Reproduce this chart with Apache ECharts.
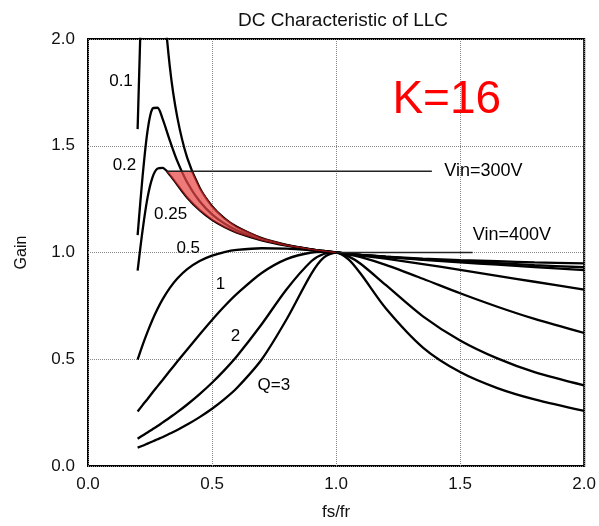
<!DOCTYPE html>
<html>
<head>
<meta charset="utf-8">
<script src="https://cdn.jsdelivr.net/npm/echarts@6/dist/echarts.min.js"></script>
<style>
  html, body { margin: 0; padding: 0; background: #fff; }
  #main { width: 599px; height: 526px; }
</style>
</head>
<body>
<div id="main"></div>
<script>
var chart = echarts.init(document.getElementById("main"));

// fs/fr sample points shared by all gain curves
var fsfr = [0.2, 0.22, 0.24, 0.26, 0.28, 0.3, 0.33, 0.36, 0.4, 0.45, 0.5, 0.55, 0.6,
            0.7, 0.8, 0.9, 0.95, 1.0, 1.05, 1.1, 1.2, 1.35, 1.5, 1.65, 1.8, 2.0];

// gain (values above 2.0 are clipped by the plot)
var gainQ01  = [1.578, 2.388, 3.13, 3.106, 2.657, 2.259, 1.868, 1.633, 1.443, 1.303, 1.217, 1.160, 1.120,
                1.067, 1.036, 1.015, 1.007, 1.0, 0.994, 0.989, 0.981, 0.971, 0.964, 0.959, 0.954, 0.949];
var gainQ02  = [1.081, 1.356, 1.570, 1.674, 1.678, 1.628, 1.524, 1.428, 1.328, 1.240, 1.179, 1.136, 1.104,
                1.061, 1.034, 1.014, 1.007, 1.0, 0.994, 0.989, 0.980, 0.968, 0.958, 0.950, 0.941, 0.931];
var gainQ025 = [0.915, 1.104, 1.257, 1.352, 1.393, 1.396, 1.363, 1.317, 1.257, 1.198, 1.153, 1.119, 1.093,
                1.057, 1.032, 1.014, 1.007, 1.0, 0.994, 0.989, 0.979, 0.966, 0.954, 0.943, 0.932, 0.917];
var gainQ05  = [0.498, 0.566, 0.628, 0.685, 0.735, 0.779, 0.834, 0.878, 0.922, 0.960, 0.985, 1.002, 1.012,
                1.020, 1.018, 1.011, 1.006, 1.0, 0.993, 0.986, 0.971, 0.946, 0.919, 0.891, 0.863, 0.826];
var gainQ1   = [0.255, 0.285, 0.314, 0.344, 0.373, 0.402, 0.446, 0.489, 0.546, 0.616, 0.684, 0.748, 0.806,
                0.904, 0.969, 1.000, 1.003, 1.0, 0.991, 0.978, 0.942, 0.877, 0.809, 0.746, 0.689, 0.623];
var gainQ2   = [0.128, 0.143, 0.157, 0.172, 0.187, 0.203, 0.227, 0.252, 0.288, 0.337, 0.390, 0.449, 0.514,
                0.664, 0.827, 0.959, 0.993, 1.0, 0.982, 0.946, 0.848, 0.701, 0.588, 0.504, 0.440, 0.378];
var gainQ3   = [0.086, 0.095, 0.105, 0.115, 0.125, 0.135, 0.152, 0.169, 0.194, 0.229, 0.268, 0.313, 0.365,
                0.499, 0.686, 0.900, 0.976, 1.0, 0.968, 0.899, 0.739, 0.555, 0.440, 0.365, 0.312, 0.258];

var curves = [gainQ01, gainQ02, gainQ025, gainQ05, gainQ1, gainQ2, gainQ3];

// red operating band (between Q=0.25 and Q=0.1, below the Vin=300V level)
var bandX    = [0.318, 0.33, 0.36, 0.4, 0.42, 0.45, 0.5, 0.55, 0.6, 0.7, 0.8, 0.9, 1.0];
var bandLow  = [1.38, 1.363, 1.317, 1.257, 1.232, 1.198, 1.153, 1.119, 1.093, 1.057, 1.032, 1.014, 1.0];
var bandHigh = [1.38, 1.38, 1.38, 1.38, 1.378, 1.303, 1.217, 1.160, 1.120, 1.067, 1.036, 1.015, 1.0];

// input voltage levels
var vin300 = [[0.318, 1.38], [1.386, 1.38]];
var vin400 = [[1.0, 1.0], [1.55, 1.0]];

// text annotations
var noteText = ["0.1", "0.2", "0.25", "0.5", "1", "2", "Q=3"];
var noteX    = [0.133, 0.147, 0.333, 0.404, 0.534, 0.594, 0.749];
var noteY    = [1.802, 1.408, 1.18, 1.021, 0.849, 0.606, 0.38];
var vinText  = ["Vin=300V", "Vin=400V"];
var vinX     = [1.594, 1.709];
var vinY     = [1.382, 1.084];

var ticks = [0, 0.5, 1.0, 1.5, 2.0];
var font = "Liberation Sans, Arial, Helvetica, sans-serif";

var series = [];

curves.forEach(function (g) {
    series.push({
        type: "line",
        z: 2,
        smooth: 0.3,
        showSymbol: false,
        clip: true,
        lineStyle: { color: "#000", width: 2.3 },
        data: fsfr.map(function (x, i) { return [x, g[i]]; })
    });
});

// translucent band over the curves so the lines inside it show dark red
series.push({
    type: "custom",
    z: 3,
    clip: true,
    silent: true,
    data: [[bandX[0], bandHigh[0]]],
    renderItem: function (params, api) {
        var pts = [];
        for (var i = 0; i < bandX.length; i++) pts.push(api.coord([bandX[i], bandHigh[i]]));
        for (var j = bandX.length - 1; j >= 0; j--) pts.push(api.coord([bandX[j], bandLow[j]]));
        return {
            type: "polygon",
            shape: { points: pts },
            style: { fill: "rgba(232,70,70,0.72)", stroke: "#8e1010", lineWidth: 1 }
        };
    }
});

[vin300, vin400].forEach(function (d) {
    series.push({
        type: "line",
        z: 4,
        showSymbol: false,
        lineStyle: { color: "#222", width: 1.5 },
        data: d
    });
});

function textSeries(texts, xs, ys, size, color) {
    return {
        type: "scatter",
        z: 5,
        symbolSize: 0,
        silent: true,
        itemStyle: { opacity: 1 },
        label: {
            show: true,
            position: "inside",
            formatter: "{b}",
            color: color,
            fontSize: size,
            fontFamily: font
        },
        data: texts.map(function (t, i) {
            return { name: t, value: [xs[i], ys[i]] };
        })
    };
}

series.push(textSeries(noteText, noteX, noteY, 17, "#000"));
series.push(textSeries(vinText, vinX, vinY, 18, "#000"));
series.push(textSeries(["K=16"], [1.446], [1.711], 46, "#ff0000"));

chart.setOption({
    backgroundColor: "#fff",
    animation: false,
    title: {
        text: "DC Characteristic of LLC",
        left: 338,
        top: 6,
        textAlign: "center",
        textStyle: { fontSize: 19, fontWeight: "normal", color: "#111", fontFamily: font }
    },
    grid: {
        left: 88, right: 13, top: 39, bottom: 58,
        show: true,
        borderColor: "#000",
        borderWidth: 2
    },
    xAxis: {
        type: "value",
        min: ticks[0], max: ticks[ticks.length - 1], interval: 0.5,
        name: "fs/fr",
        nameLocation: "middle",
        nameGap: 38,
        nameTextStyle: { fontSize: 17, color: "#111", fontFamily: font },
        axisLine: { show: false },
        axisTick: { show: false },
        axisLabel: {
            fontSize: 17, color: "#111", fontFamily: font, margin: 10,
            formatter: function (v) { return v.toFixed(1); }
        },
        splitLine: { lineStyle: { type: "dotted", color: "#888", width: 1 } }
    },
    yAxis: {
        type: "value",
        min: ticks[0], max: ticks[ticks.length - 1], interval: 0.5,
        name: "Gain",
        nameLocation: "middle",
        nameGap: 58,
        nameTextStyle: { fontSize: 16, color: "#111", fontFamily: font },
        axisLine: { show: false },
        axisTick: { show: false },
        axisLabel: {
            fontSize: 17, color: "#111", fontFamily: font, margin: 13,
            formatter: function (v) { return v.toFixed(1); }
        },
        splitLine: { lineStyle: { type: "dotted", color: "#888", width: 1 } }
    },
    series: series
});
</script>
</body>
</html>
